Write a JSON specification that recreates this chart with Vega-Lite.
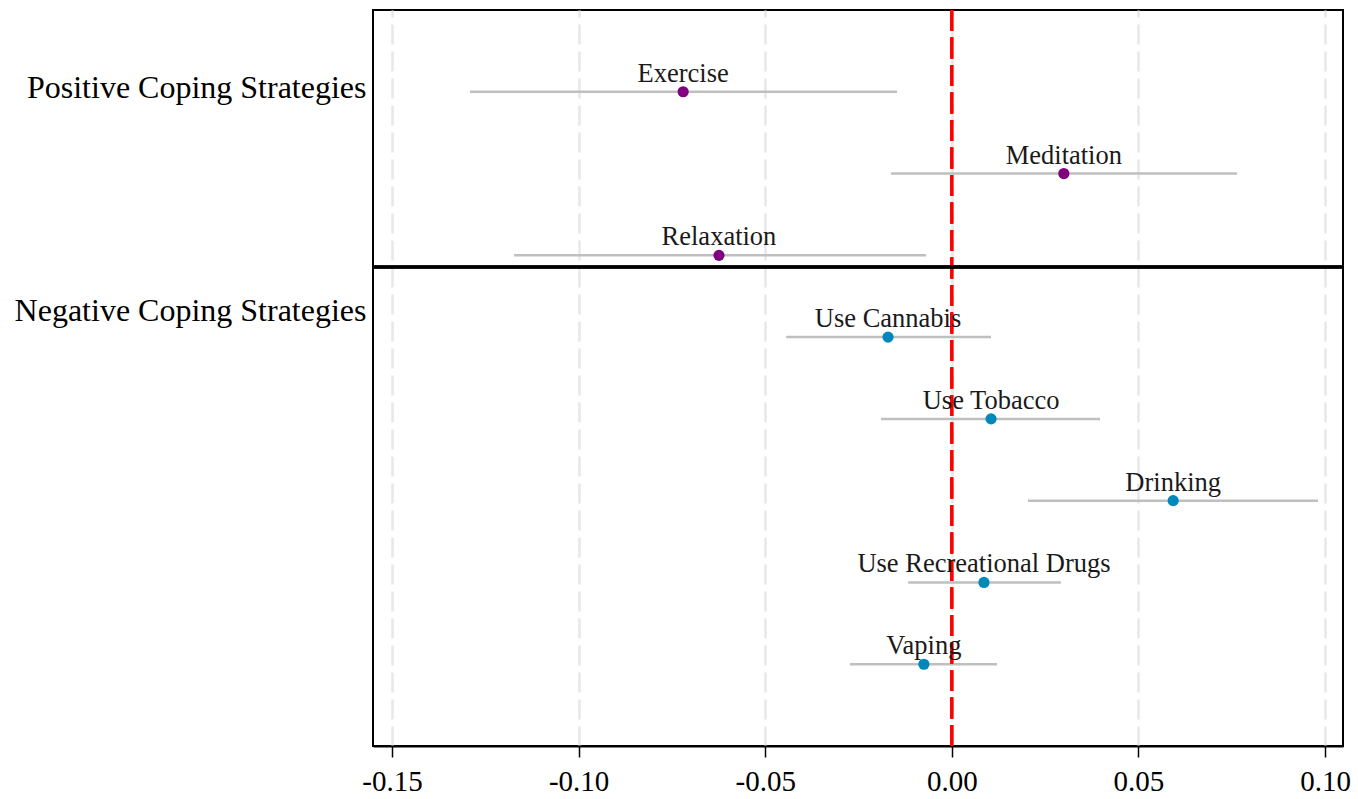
{
  "$schema": "https://vega.github.io/schema/vega-lite/v6.json",
  "width": 970,
  "height": 736,
  "autosize": {"type": "none"},
  "padding": {"left": 373, "top": 10, "right": 15, "bottom": 53},
  "background": "white",
  "config": {
    "view": {"stroke": "black", "strokeWidth": 2},
    "font": "Liberation Serif"
  },
  "data": {
    "values": [
      {"strategy": "Exercise", "group": "Positive", "row": 1, "estimate": -0.0720, "lo": -0.1291, "hi": -0.0147},
      {"strategy": "Meditation", "group": "Positive", "row": 2, "estimate": 0.0300, "lo": -0.0163, "hi": 0.0764},
      {"strategy": "Relaxation", "group": "Positive", "row": 3, "estimate": -0.0624, "lo": -0.1173, "hi": -0.0069},
      {"strategy": "Use Cannabis", "group": "Negative", "row": 4, "estimate": -0.0171, "lo": -0.0444, "hi": 0.0105},
      {"strategy": "Use Tobacco", "group": "Negative", "row": 5, "estimate": 0.0105, "lo": -0.0190, "hi": 0.0397},
      {"strategy": "Drinking", "group": "Negative", "row": 6, "estimate": 0.0593, "lo": 0.0204, "hi": 0.0981},
      {"strategy": "Use Recreational Drugs", "group": "Negative", "row": 7, "estimate": 0.0086, "lo": -0.0117, "hi": 0.0292},
      {"strategy": "Vaping", "group": "Negative", "row": 8, "estimate": -0.0075, "lo": -0.0273, "hi": 0.0121}
    ]
  },
  "layer": [
    {
      "mark": {"type": "rule", "color": "#bfbfbf", "strokeWidth": 2.5},
      "encoding": {
        "x": {
          "field": "lo",
          "type": "quantitative",
          "scale": {"domain": [-0.1551, 0.1048], "nice": false, "zero": false},
          "axis": {
            "values": [-0.15, -0.1, -0.05, 0, 0.05, 0.1],
            "labelExpr": "replace(format(datum.value, '.2f'), '\u2212', '-')",
            "title": null,
            "grid": true,
            "gridColor": "#e8e8e8",
            "gridDash": [20, 7],
            "gridWidth": 2.5,
            "tickColor": "black",
            "tickSize": 11,
            "tickWidth": 1.5,
            "domainColor": "black",
            "domainWidth": 2,
            "labelFont": "Liberation Serif",
            "labelFontSize": 29,
            "labelColor": "black",
            "labelPadding": 10,
            "labelFlush": false
          }
        },
        "x2": {"field": "hi"},
        "y": {
          "field": "row",
          "type": "quantitative",
          "scale": {"domain": [0, 9], "reverse": true, "nice": false, "zero": false},
          "axis": {
            "values": [0.95, 3.67],
            "labelExpr": "datum.value < 2 ? 'Positive Coping Strategies' : 'Negative Coping Strategies'",
            "title": null,
            "ticks": false,
            "domain": false,
            "grid": false,
            "labelFont": "Liberation Serif",
            "labelFontSize": 32,
            "labelColor": "black",
            "labelPadding": 7,
            "labelLimit": 0
          }
        }
      }
    },
    {
      "mark": {"type": "rule", "color": "#ff0000", "strokeDash": [21, 6.5], "strokeWidth": 2.5},
      "encoding": {"x": {"datum": 0}}
    },
    {
      "mark": {"type": "point", "filled": true, "size": 125, "opacity": 1},
      "encoding": {
        "x": {"field": "estimate", "type": "quantitative"},
        "y": {"field": "row", "type": "quantitative"},
        "color": {
          "field": "group",
          "type": "nominal",
          "scale": {"domain": ["Positive", "Negative"], "range": ["#800080", "#0088bb"]},
          "legend": null
        }
      }
    },
    {
      "mark": {"type": "text", "fontSize": 26.5, "dy": -10, "baseline": "alphabetic", "align": "center", "color": "#1a1a1a", "font": "Liberation Serif"},
      "encoding": {
        "x": {"field": "estimate", "type": "quantitative"},
        "y": {"field": "row", "type": "quantitative"},
        "text": {"field": "strategy"}
      }
    },
    {
      "mark": {"type": "rule", "color": "black", "strokeWidth": 2.5},
      "encoding": {"y": {"datum": 3.143}}
    }
  ]
}
